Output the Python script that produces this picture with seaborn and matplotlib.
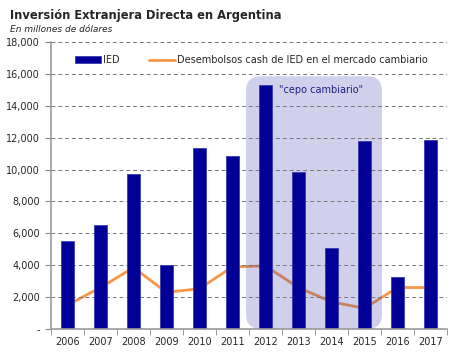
import numpy as np
import pandas as pd
import matplotlib
matplotlib.use("Agg")
from matplotlib import pyplot as plt
from matplotlib.patches import FancyBboxPatch, Patch
from matplotlib.lines import Line2D
import seaborn as sns

# datos (millones de dolares)
anios = ["2006", "2007", "2008", "2009", "2010", "2011",
         "2012", "2013", "2014", "2015", "2016", "2017"]
ied = [5500, 6500, 9750, 4000, 11350, 10830,
       15330, 9820, 5060, 11760, 3240, 11860]
desembolsos = [1500, 2600, 3850, 2300, 2530, 3900,
               3950, 2600, 1700, 1300, 2600, 2600]
cepo_desde, cepo_hasta = "2012", "2015"

df = pd.DataFrame({"anio": anios, "ied": ied, "desembolsos": desembolsos})
df["pos"] = np.arange(len(df))

sns.set_style("white")
plt.rcParams["font.family"] = ["DejaVu Sans"]

fig = plt.figure(figsize=(4.56, 3.53), dpi=100)
ax = fig.add_axes([51 / 456, 24 / 353, 396 / 456, 287 / 353])

# barras
sns.barplot(data=df, x="anio", y="ied", color="#000096", saturation=1,
            width=0.42, edgecolor="#3a3ab0", linewidth=0.6, ax=ax)
for p in ax.patches:
    p.set_zorder(3)

# linea de desembolsos
sns.lineplot(data=df, x="pos", y="desembolsos", color="#F79646",
             linewidth=2.0, ax=ax)
for l in ax.lines:
    l.set_zorder(1)

# recuadro del cepo
i0 = anios.index(cepo_desde)
i1 = anios.index(cepo_hasta)
caja = FancyBboxPatch((i0 - 0.59, 0), (i1 + 0.53) - (i0 - 0.59), 15850,
                      boxstyle="round,pad=0,rounding_size=0.45",
                      mutation_aspect=2070, facecolor="#4444B4", alpha=0.25,
                      edgecolor="none", zorder=1.5)
ax.add_patch(caja)
ax.text(i0 + 0.42, 15000, '"cepo cambiario"', fontsize=7, color="#1f1f85",
        va="center", ha="left", zorder=4)

# ejes
ax.set_xlim(-0.5, len(anios) - 0.5)
ax.set_ylim(0, 18000)
ax.set_yticks(range(0, 18001, 2000))
ax.set_yticklabels(["-"] + [f"{v:,}" for v in range(2000, 18001, 2000)])
ax.set_xticks(range(len(anios)))
ax.set_xticklabels(anios)
ax.set_xticks(np.arange(-0.5, len(anios), 1), minor=True)
ax.tick_params(axis="x", which="major", length=0, labelsize=7, pad=6)
ax.tick_params(axis="x", which="minor", length=4, color="#888888",
               direction="out", bottom=True)
ax.tick_params(axis="y", length=4, color="#888888", direction="out",
               left=True, labelsize=7, pad=4)
ax.set_xlabel("")
ax.set_ylabel("")

ax.yaxis.grid(True, color="#777777", linestyle=(0, (4, 3)), linewidth=0.7)
ax.yaxis.set_zorder(1.8)
ax.xaxis.set_zorder(1.8)
for s in ["top", "right"]:
    ax.spines[s].set_visible(False)
for s in ["left", "bottom"]:
    ax.spines[s].set_color("#999999")
    ax.spines[s].set_linewidth(1.2)
    ax.spines[s].set_zorder(3.5)

# leyenda
handles = [Patch(facecolor="#000096", edgecolor="#3a3ab0", linewidth=0.6),
           Line2D([0], [0], color="#F79646", linewidth=2.0)]
ax.legend(handles, ["IED", "Desembolsos cash de IED en el mercado cambiario"],
          loc="center left", bbox_to_anchor=(0.06, 0.937), ncol=2,
          frameon=False, fontsize=7, handlelength=2.7, handleheight=0.8,
          handletextpad=0.2, columnspacing=3.0, borderpad=0, borderaxespad=0)

fig.text(10 / 456, 1 - 15 / 353, "Inversión Extranjera Directa en Argentina",
         fontsize=8.3, fontweight="bold", va="center", ha="left")
fig.text(10 / 456, 1 - 29 / 353, "En millones de dólares",
         fontsize=6.5, style="italic", va="center", ha="left")

fig.savefig("out.png", dpi=100)
